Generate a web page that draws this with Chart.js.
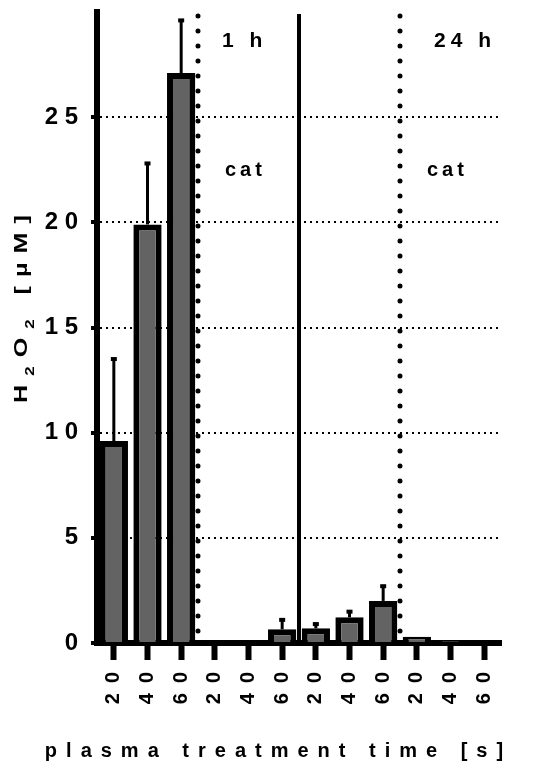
<!DOCTYPE html>
<html>
<head>
<meta charset="utf-8">
<script src="https://cdn.jsdelivr.net/npm/chart.js@4.4.0/dist/chart.umd.min.js"></script>
<style>
    html, body { margin: 0; padding: 0; background: #fff; }
    canvas { display: block; }
</style>
</head>
<body>
<canvas id="h2o2Chart" width="534" height="775"></canvas>
<script>
// ____________ Data ____________
const times = ['20', '40', '60', '20', '40', '60', '20', '40', '60', '20', '40', '60'];
const h2o2 = [9.6, 19.9, 27.1, 0, 0, 0.65, 0.7, 1.22, 2.0, 0.3, 0.1, 0];
const h2o2Sd = [3.9, 2.9, 2.5, 0, 0, 0.45, 0.2, 0.27, 0.7, 0, 0, 0];
const yTicks = [0, 5, 10, 15, 20, 25];
const yMax = 30;
const groupLabels = ['1 h', '24 h'];
const catLabel = 'cat';
const solidSplits = [5.5];          // between 1 h and 24 h
const dottedSplits = [2.5, 8.5];    // catalase groups start here
const yTitleParts = [['H', false], ['2', true], ['O', false], ['2', true], [' ', false], ['[', false], ['µ', false], ['M', false], [']', false]];
const xTitle = 'plasma treatment time [s]';

const FONT = "'Liberation Sans', Arial, sans-serif";

// draw text char by char with extra spacing
function spacedText(ctx, text, x, y, spacing, align) {
    let chars = [...text];
    let widths = chars.map(ch => ctx.measureText(ch).width);
    let total = widths.reduce((a, b) => a + b, 0) + spacing * (chars.length - 1);
    let cx = x;
    if (align == 'center') cx = x - total / 2;
    else if (align == 'right') cx = x - total;
    ctx.textAlign = 'left';
    chars.forEach((ch, i) => {
        ctx.fillText(ch, cx, y);
        cx += widths[i] + spacing;
    });
}

const extras = {
    id: 'extras',
    afterDatasetsDraw(chart) {
        const {ctx, chartArea: area, scales: {x, y}} = chart;
        ctx.save();
        ctx.fillStyle = '#000';
        ctx.strokeStyle = '#000';

        // error bars
        h2o2.forEach((v, i) => {
            if (!h2o2Sd[i]) return;
            let px = x.getPixelForValue(i);
            let y0 = y.getPixelForValue(v);
            let y1 = y.getPixelForValue(v + h2o2Sd[i]);
            ctx.lineWidth = 3;
            ctx.beginPath();
            ctx.moveTo(px, y0);
            ctx.lineTo(px, y1);
            ctx.stroke();
            ctx.fillRect(px - 3, y1 - 2, 6, 4);
        });

        let zero = y.getPixelForValue(0);
        // solid separator
        solidSplits.forEach(s => {
            let px = x.getPixelForValue(s);
            ctx.lineWidth = 4;
            ctx.beginPath();
            ctx.moveTo(px, area.top + 2);
            ctx.lineTo(px, zero);
            ctx.stroke();
        });
        // dotted separators
        ctx.lineCap = 'round';
        ctx.setLineDash([0, 15]);
        dottedSplits.forEach(s => {
            let px = x.getPixelForValue(s);
            ctx.lineWidth = 5;
            ctx.beginPath();
            ctx.moveTo(px, area.top + 4);
            ctx.lineTo(px, zero - 8);
            ctx.stroke();
        });
        ctx.setLineDash([]);

        // group labels
        ctx.textBaseline = 'alphabetic';
        dottedSplits.forEach((s, i) => {
            let px = x.getPixelForValue(s);
            ctx.font = `bold 21px ${FONT}`;
            spacedText(ctx, groupLabels[i], px + (i == 0 ? 24 : 34), 47, 5, 'left');
            ctx.font = `bold 20px ${FONT}`;
            spacedText(ctx, catLabel, px + 27, 176, 4, 'left');
        });
        ctx.restore();
    },
    afterDraw(chart) {
        const {ctx} = chart;
        ctx.save();
        ctx.fillStyle = '#000';
        ctx.textBaseline = 'alphabetic';

        // x title
        ctx.font = `bold 20px ${FONT}`;
        spacedText(ctx, xTitle, 274, 757, 9, 'center');

        // y title with subscripts, stretched along its length
        const sx = 1.4, gap = 9 / sx;
        ctx.translate(27, 309);
        ctx.rotate(-Math.PI / 2);
        ctx.scale(sx, 1);
        let widths = yTitleParts.map(([t, sub]) => {
            ctx.font = `bold ${sub ? 12 : 18}px ${FONT}`;
            return ctx.measureText(t).width;
        });
        let total = widths.reduce((a, b) => a + b, 0) + gap * (widths.length - 1);
        let cx = -total / 2;
        ctx.textAlign = 'left';
        yTitleParts.forEach(([t, sub], i) => {
            ctx.font = `bold ${sub ? 12 : 18}px ${FONT}`;
            ctx.fillText(t, cx, sub ? 7 : 0);
            cx += widths[i] + gap;
        });
        ctx.restore();
    }
};

let chart = new Chart(document.getElementById('h2o2Chart'), {
    type: 'bar',
    data: {
        labels: times,
        datasets: [{
            data: h2o2,
            backgroundColor: '#636363',
            borderColor: '#000',
            borderWidth: 6,
            barPercentage: 0.84,
            categoryPercentage: 1
        }]
    },
    options: {
        responsive: false,
        animation: false,
        devicePixelRatio: 1,
        layout: { padding: { left: 0, right: 33, top: 12, bottom: 0 } },
        plugins: {
            legend: { display: false },
            tooltip: { enabled: false }
        },
        scales: {
            x: {
                grid: { offset: false, drawOnChartArea: false, tickLength: 17, tickWidth: 6, tickColor: '#000' },
                border: { color: '#000', width: 6 },
                ticks: {
                    minRotation: 90,
                    maxRotation: 90,
                    padding: 12,
                    color: '#000',
                    font: { family: FONT, size: 20, weight: 'bold' },
                    callback(v) { return this.getLabelForValue(v).split('').join('\u2002'); }
                },
                afterFit(s) { s.height = 132; s.paddingLeft = 0; s.paddingRight = 0; }
            },
            y: {
                min: 0,
                max: yMax,
                afterBuildTicks(s) { s.ticks = yTicks.map(v => ({ value: v })); },
                grid: { color: '#000', lineWidth: 2, tickLength: 6, tickWidth: 4, tickColor: '#000' },
                border: { color: '#000', width: 6, dash: [2, 4] },
                ticks: {
                    padding: 13,
                    color: '#000',
                    font: { family: FONT, size: 24, weight: 'bold' },
                    callback: v => String(v).split('').join(' ')
                },
                afterFit(s) { s.width = 97; s.paddingTop = 0; s.paddingBottom = 0; }
            }
        }
    },
    plugins: [extras]
});
</script>
</body>
</html>
